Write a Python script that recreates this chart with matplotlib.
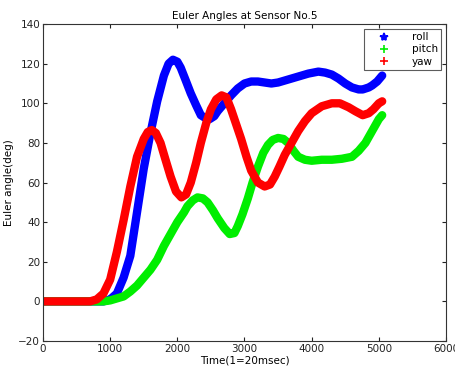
import matplotlib
matplotlib.use("Agg")
import matplotlib.pyplot as plt
from matplotlib.lines import Line2D

# Time samples (1 = 20 msec) and Euler angles (deg)
roll_t = [0, 500, 900, 950, 1000, 1100, 1200, 1300, 1400, 1500, 1600, 1700, 1800, 1870,
          1935, 2000, 2050, 2120, 2200, 2280, 2350, 2420, 2480, 2550, 2600, 2700, 2800,
          2900, 3000, 3100, 3200, 3300, 3400, 3500, 3600, 3700, 3800, 3950, 4100, 4200,
          4300, 4400, 4500, 4600, 4700, 4760, 4850, 4900, 4975, 5050]
roll = [0, 0, 0, 0.5, 1, 4, 12, 23, 45, 67, 85, 101, 114, 120,
        122, 121, 118, 112, 105, 99, 94, 92.5, 92, 93.5, 96, 100, 104,
        107.5, 110, 111, 111, 110.5, 110, 110.5, 111.5, 112.5, 113.5, 115, 116, 115.5,
        114.5, 112.5, 110, 108, 107, 107, 108, 109, 111, 114]

pitch_t = [0, 500, 900, 1000, 1100, 1200, 1300, 1400, 1500, 1600, 1700, 1800, 1900, 2000,
           2100, 2150, 2230, 2300, 2380, 2450, 2530, 2600, 2700, 2780, 2850, 2900, 2970,
           3050, 3120, 3200, 3280, 3350, 3420, 3500, 3580, 3650, 3730, 3800, 3900, 4000,
           4150, 4300, 4450, 4600, 4700, 4800, 4900, 5000, 5050]
pitch = [0, 0, 0, 0.5, 1.5, 2.5, 5, 8, 12, 16, 21, 28, 34, 40,
         45, 48, 51, 52.5, 52, 50, 46, 42, 37, 34, 34.5, 38, 44,
         52, 60, 68, 75, 79, 81.5, 82.5, 82, 80, 76, 73, 71.5, 71,
         71.5, 71.5, 72, 73, 76, 80, 86, 92, 94]

yaw_t = [0, 500, 700, 800, 900, 1000, 1100, 1200, 1300, 1400, 1500, 1560, 1620, 1680,
         1750, 1820, 1900, 1980, 2060, 2130, 2200, 2280, 2350, 2430, 2500, 2580, 2660,
         2730, 2800, 2870, 2950, 3030, 3100, 3200, 3300, 3380, 3450, 3520, 3600, 3700,
         3800, 3900, 4000, 4150, 4300, 4420, 4550, 4650, 4760, 4850, 4920, 5000, 5050]
yaw = [0, 0, 0, 1, 4, 11, 25, 41, 58, 73, 82, 85.5, 86.5, 85,
       80, 72, 63, 55.5, 52.5, 54, 60, 70, 80, 90, 97, 102, 104,
       103, 97, 90, 82, 73, 66, 60, 58, 59, 63, 68, 74, 80,
       86, 91, 95, 98.5, 100, 100, 98, 96, 94, 95, 97, 100, 101]

series = [
    ("roll", roll_t, roll, "#0000ff", "*"),
    ("pitch", pitch_t, pitch, "#00ee00", "+"),
    ("yaw", yaw_t, yaw, "#ff0000", "+"),
]

x_ticks = [0, 1000, 2000, 3000, 4000, 5000, 6000]
y_ticks = [-20, 0, 20, 40, 60, 80, 100, 120, 140]

plt.rcParams["font.family"] = ["DejaVu Sans"]
fig = plt.figure(figsize=(4.55, 3.72), dpi=100)
ax = fig.add_axes([0.0945, 0.0833, 0.8857, 0.852])

for name, t, v, color, marker in series:
    ax.plot(t, v, color=color, linewidth=6.0, solid_capstyle="round",
            solid_joinstyle="round")

ax.set_xlim(0, 6000)
ax.set_ylim(-20, 140)
ax.set_xticks(x_ticks)
ax.set_yticks(y_ticks)
ax.tick_params(direction="in", length=3, width=0.8, labelsize=7.5,
               top=True, right=True, pad=2, colors="#222222")
for s in ax.spines.values():
    s.set_color("#333333")
    s.set_linewidth(0.8)

ax.set_title("Euler Angles at Sensor No.5", fontsize=7.5, pad=4)
ax.set_xlabel("Time(1=20msec)", fontsize=7.5, labelpad=1)
ax.set_ylabel("Euler angle(deg)", fontsize=7.5, labelpad=3)

handles = [Line2D([], [], linestyle="none", marker=m, color=c, markersize=6,
                  markeredgewidth=1.2) for _, _, _, c, m in series]
leg = ax.legend(handles, [s[0] for s in series], loc="upper right",
                fontsize=7.5, frameon=True, fancybox=False, borderpad=0.35,
                labelspacing=0.2, handletextpad=1.0, borderaxespad=0.45,
                handlelength=3.2)
leg.get_frame().set_edgecolor("#333333")
leg.get_frame().set_linewidth(0.8)

fig.savefig("out.png", dpi=100)
